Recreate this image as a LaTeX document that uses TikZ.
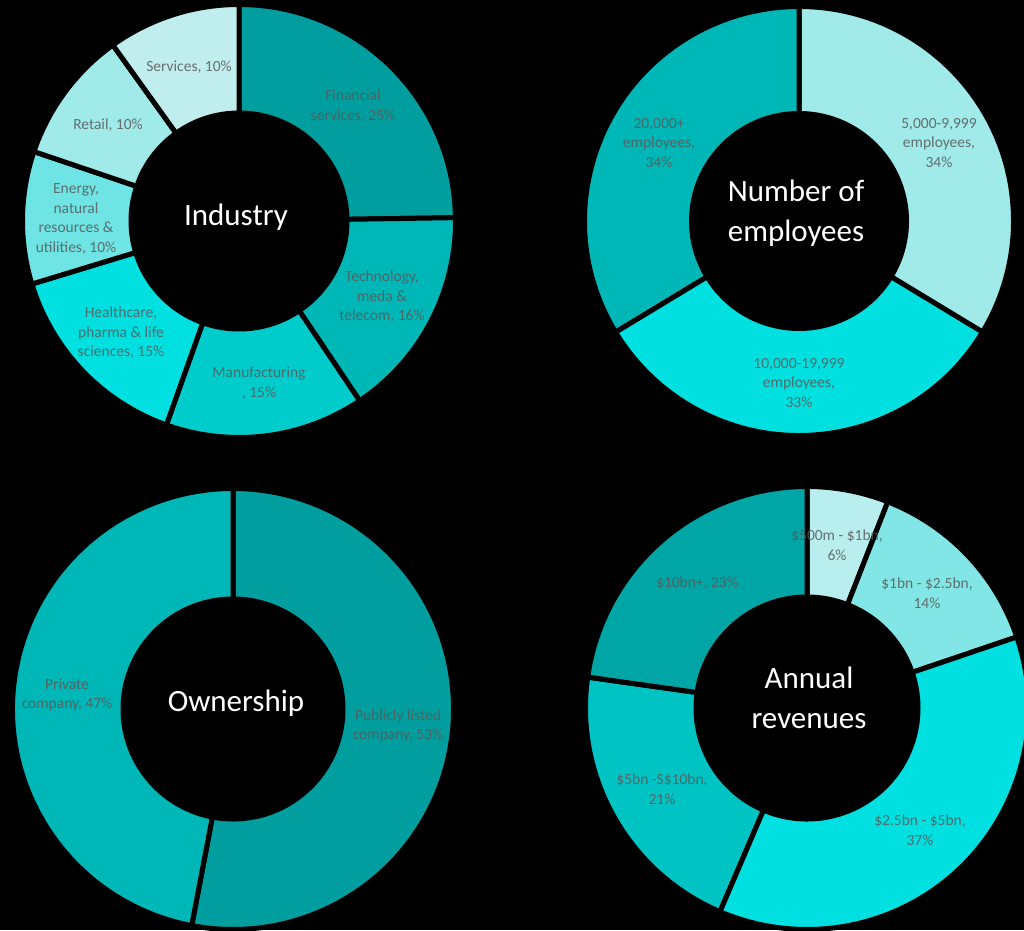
\documentclass[tikz,border=0pt]{standalone}
\usepackage{fontspec}
\setmainfont{Carlito}
\usetikzlibrary{calc}

\definecolor{tealA}{RGB}{0,158,158}
\definecolor{tealB}{RGB}{0,183,183}
\definecolor{tealC}{RGB}{0,204,204}
\definecolor{tealD}{RGB}{0,224,224}
\definecolor{tealE}{RGB}{110,228,228}
\definecolor{tealF}{RGB}{160,234,234}
\definecolor{tealG}{RGB}{192,238,238}
\definecolor{tealH}{RGB}{130,230,230}
\definecolor{tealI}{RGB}{184,238,238}
\definecolor{tealJ}{RGB}{0,195,195}
\definecolor{tealK}{RGB}{0,166,166}
\definecolor{labelgray}{RGB}{89,89,89}

\tikzset{
    slice/.style={fill=#1, draw=black, line width=5pt, line join=miter},
    label/.style={font=\fontsize{15.5}{19.5}\selectfont, text=labelgray, text opacity=0.85, align=center, inner sep=0pt},
    title/.style={font=\fontsize{31}{40}\selectfont, text=white, align=center, inner sep=0pt}
}

\begin{document}
\begin{tikzpicture}[x=1pt,y=1pt]
    \useasboundingbox (0,0) rectangle (1024,930);
    \clip (0,0) rectangle (1024,930);
    \fill [black] (0,0) rectangle (1024,930);

    \coordinate (I) at (239,709);
    \coordinate (E) at (799,709);
    \coordinate (O) at (233,221);
    \coordinate (R) at (807,222);

    % industry
    \foreach \b/\col [remember=\b as \a (initially 90)] in
        {0.89/tealA, -56.14/tealB, -109.60/tealC, -163.07/tealD, -198.71/tealE, -234.36/tealF, -270/tealG}
        \draw [slice=\col] ($(I)+(\a:216.5)$) arc (\a:\b:216.5) -- ($(I)+(\b:108)$) arc (\b:\a:108) -- cycle;

    % number of employees
    \foreach \b/\col [remember=\b as \a (initially 90)] in
        {-31.19/tealF, -148.81/tealD, -270/tealB}
        \draw [slice=\col] ($(E)+(\a:214.5)$) arc (\a:\b:214.5) -- ($(E)+(\b:107.5)$) arc (\b:\a:107.5) -- cycle;

    % ownership
    \foreach \b/\col [remember=\b as \a (initially 90)] in
        {-100.8/tealA, -270/tealB}
        \draw [slice=\col] ($(O)+(\a:220.5)$) arc (\a:\b:220.5) -- ($(O)+(\b:110)$) arc (\b:\a:110) -- cycle;

    % annual revenues
    \foreach \b/\col [remember=\b as \a (initially 90)] in
        {68.61/tealI, 18.71/tealH, -113.17/tealD, -188.02/tealJ, -270/tealK}
        \draw [slice=\col] ($(R)+(\a:221.5)$) arc (\a:\b:221.5) -- ($(R)+(\b:111)$) arc (\b:\a:111) -- cycle;

    \node [title] (ind) at (236,713) {Industry};
    \node [label] (fin) at (353,824) {Financial\\services, 25\%};
    \node [label] (tech) at (382,633) {Technology,\\meda \&\\telecom, 16\%};
    \node [label] (manu) at (259,547) {Manufacturing\\, 15\%};
    \node [label] (health) at (121,597) {Healthcare,\\pharma \& life\\sciences, 15\%};
    \node [label] (energy) at (76,711) {Energy,\\natural\\resources \&\\utilities, 10\%};
    \node [label] (retail) at (108,805) {Retail, 10\%};
    \node [label] (serv) at (189,863) {Services, 10\%};

    \node [title] (emp) at (796,717) {Number of\\employees};
    \node [label] (e5k) at (939,787) {5,000-9,999\\employees,\\34\%};
    \node [label] (e10k) at (799,547) {10,000-19,999\\employees,\\33\%};
    \node [label] (e20k) at (659,787) {20,000+\\employees,\\34\%};

    \node [title] (own) at (236,227) {Ownership};
    \node [label] (priv) at (67,235) {Private\\company, 47\%};
    \node [label] (pub) at (398,204) {Publicly listed\\company, 53\%};

    \node [title] (rev) at (809,232) {Annual\\revenues};
    \node [label] (r500) at (837,385) {\$500m - \$1bn,\\6\%};
    \node [label] (r1) at (927,337) {\$1bn - \$2.5bn,\\14\%};
    \node [label] (r25) at (920,100) {\$2.5bn - \$5bn,\\37\%};
    \node [label] (r5) at (662,141) {\$5bn -S\$10bn,\\21\%};
    \node [label] (r10) at (697,347) {\$10bn+, 23\%};
\end{tikzpicture}
\end{document}
